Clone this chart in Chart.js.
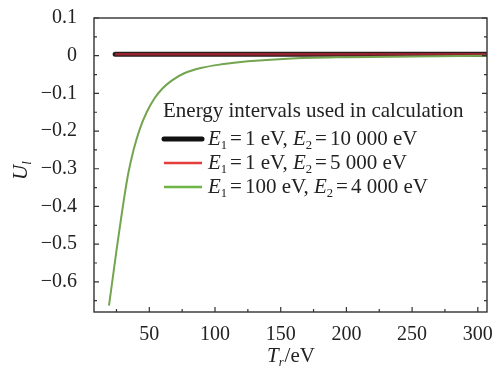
<!DOCTYPE html>
<html>
<head>
<meta charset="utf-8">
<script src="https://cdn.jsdelivr.net/npm/chart.js@4.4.1/dist/chart.umd.min.js"></script>
<style>
  html, body { margin: 0; padding: 0; background: #fff; }
  #wrap { width: 496px; height: 369px; }
</style>
</head>
<body>
<div id="wrap"><canvas id="uChart" width="496" height="369"></canvas></div>
<script>
// axis ranges and tick values
const xRange = [7.9, 307];
const yRange = [-0.68, 0.1];
const xTickValues = [50, 100, 150, 200, 250, 300];
const xMinorValues = [25, 75, 125, 175, 225, 275];
const yTickValues = [0.1, 0, -0.1, -0.2, -0.3, -0.4, -0.5, -0.6];
const yMinorValues = [0.05, -0.05, -0.15, -0.25, -0.35, -0.45, -0.55, -0.65];

// series: Tr (eV) and Ul
const blackT = [24, 307];
const blackU = [0.004, 0.004];
const redT = [24, 307];
const redU = [0.004, 0.004];
const greenT = [19.3, 22, 25, 28, 31, 34, 38, 43, 48, 54, 60, 67, 77, 90, 105, 125, 155, 200, 250, 307];
const greenU = [-0.663, -0.594, -0.517, -0.444, -0.374, -0.312, -0.250, -0.192, -0.150, -0.113, -0.087, -0.066, -0.046, -0.032, -0.023, -0.015, -0.008, -0.004, -0.002, 0];

// legend text
const legendTitle = 'Energy intervals used in calculation';
const legendE1 = ['1', '1', '100'];
const legendE2 = ['10 000', '5 000', '4 000'];

const serif = "'Liberation Serif', 'Times New Roman', serif";

function pts(xs, ys) {
  return xs.map((v, i) => ({x: v, y: ys[i]}));
}

// legend sample colors (the red in the plot reads darker over the black line)
const sampleColors = ['#111', 'rgb(230,60,60)', 'rgb(110,180,70)'];
const sampleWidths = [5, 2.5, 2.5];

// draws text in pieces: italic letters and subscripts
function drawRich(ctx, parts, x, y, size) {
  parts.forEach(p => {
    x += p.pre || 0;
    let fs = p.sub ? size * 0.6 : size;
    ctx.font = (p.it ? 'italic ' : '') + fs + 'px ' + serif;
    ctx.fillText(p.t, x, p.sub ? y + size * 0.2 : y);
    x += ctx.measureText(p.t).width + (p.gap || 0);
  });
  return x;
}

const decorPlugin = {
  id: 'decor',
  afterDraw(chart) {
    const ctx = chart.ctx;
    const a = chart.chartArea;
    const xs = chart.scales.x, ys = chart.scales.y;
    ctx.save();
    ctx.strokeStyle = '#333';
    ctx.lineWidth = 1.4;
    ctx.strokeRect(a.left, a.top, a.right - a.left, a.bottom - a.top);

    // inward ticks
    ctx.lineWidth = 1.2;
    ctx.beginPath();
    xTickValues.concat(xMinorValues).forEach(v => {
      const px = xs.getPixelForValue(v);
      const len = xTickValues.includes(v) ? 5 : 3;
      ctx.moveTo(px, a.bottom); ctx.lineTo(px, a.bottom - len);
    });
    yTickValues.concat(yMinorValues).forEach(v => {
      const py = ys.getPixelForValue(v);
      const len = yTickValues.includes(v) ? 5 : 3;
      ctx.moveTo(a.left, py); ctx.lineTo(a.left + len, py);
      ctx.moveTo(a.right, py); ctx.lineTo(a.right - len, py);
    });
    ctx.stroke();

    // legend
    ctx.fillStyle = '#222';
    ctx.textBaseline = 'alphabetic';
    ctx.font = '21px ' + serif;
    ctx.fillText(legendTitle, 163, 117);
    const rowBase = [145, 169, 193];
    legendE1.forEach((e1, i) => {
      ctx.strokeStyle = sampleColors[i];
      ctx.lineWidth = sampleWidths[i];
      ctx.lineCap = i === 0 ? 'round' : 'butt';
      ctx.beginPath();
      ctx.moveTo(164, rowBase[i] - 6);
      ctx.lineTo(202, rowBase[i] - 6);
      ctx.stroke();
      drawRich(ctx, [
        {t: 'E', it: true},
        {t: '1', sub: true},
        {t: '=', pre: 3, gap: 3},
        {t: e1 + ' eV, '},
        {t: 'E', it: true},
        {t: '2', sub: true},
        {t: '=', pre: 3, gap: 3},
        {t: legendE2[i] + ' eV'}
      ], 208, rowBase[i], 21);
    });

    // axis titles
    drawRich(ctx, [{t: 'T', it: true}, {t: 'r', it: true, sub: true, gap: 1}, {t: '/eV'}], 267, 362, 21);
    ctx.translate(27, 170);
    ctx.rotate(-Math.PI / 2);
    drawRich(ctx, [{t: 'U', it: true}, {t: 'l', it: true, sub: true}], -10, 0, 21);
    ctx.restore();
  }
};

const config = {
  type: 'line',
  data: {
    datasets: [{
      label: 'E1=1 eV, E2=10 000 eV',
      data: pts(blackT, blackU),
      borderColor: 'rgb(40,30,30)',
      borderWidth: 5,
      borderCapStyle: 'round',
      order: 3
    },
    {
      label: 'E1=1 eV, E2=5 000 eV',
      data: pts(redT, redU),
      borderColor: 'rgb(150,35,45)',
      borderWidth: 2.5,
      order: 2
    },
    {
      label: 'E1=100 eV, E2=4 000 eV',
      data: pts(greenT, greenU),
      borderColor: 'rgb(115,165,80)',
      borderWidth: 2,
      cubicInterpolationMode: 'monotone',
      order: 1
    }]
  },
  options: {
    responsive: false,
    animation: false,
    layout: {
      padding: {top: 18, right: 9, left: 0, bottom: 0}
    },
    elements: {
      point: {radius: 0}
    },
    plugins: {
      legend: {display: false},
      tooltip: {enabled: false}
    },
    scales: {
      x: {
        type: 'linear',
        min: xRange[0],
        max: xRange[1],
        afterBuildTicks: s => { s.ticks = xTickValues.map(v => ({value: v})); },
        afterFit: s => { s.height = 57; s.paddingLeft = 0; s.paddingRight = 0; },
        grid: {display: false, drawTicks: false},
        border: {display: false},
        ticks: {
          padding: 11,
          color: '#222',
          font: {family: serif, size: 20},
          maxRotation: 0
        }
      },
      y: {
        type: 'linear',
        min: yRange[0],
        max: yRange[1],
        afterBuildTicks: s => { s.ticks = yTickValues.map(v => ({value: v})); },
        afterFit: s => { s.width = 94; s.paddingTop = 0; s.paddingBottom = 0; },
        grid: {display: false, drawTicks: false},
        border: {display: false},
        ticks: {
          padding: 17,
          color: '#222',
          font: {family: serif, size: 20},
          callback: v => v === 0 ? '0' : (v < 0 ? '\u2212' : '') + Math.abs(v).toFixed(1)
        }
      }
    }
  },
  plugins: [decorPlugin]
};

window.onload = function() {
  const ctx = document.getElementById('uChart').getContext('2d');
  window.uChart = new Chart(ctx, config);
};
</script>
</body>
</html>
